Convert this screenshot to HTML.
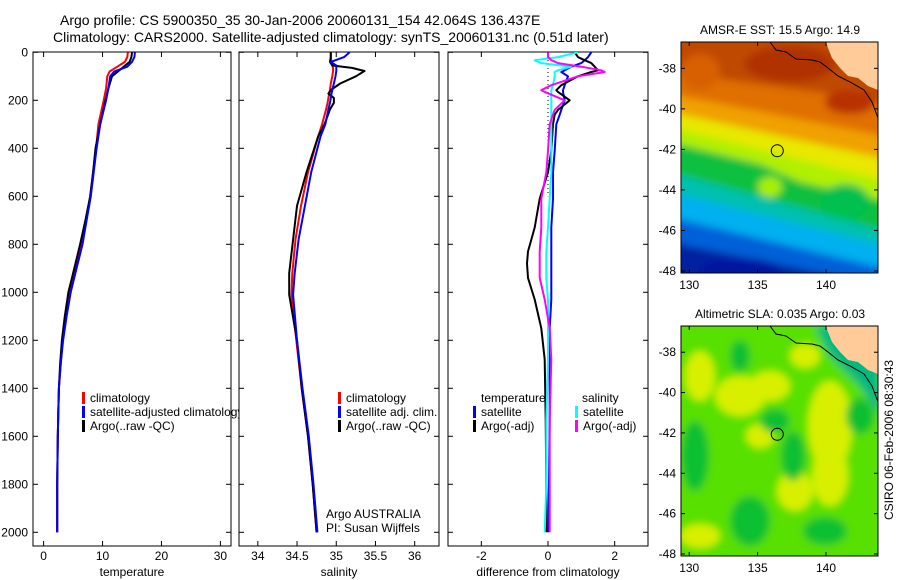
<!DOCTYPE html>
<html><head><meta charset="utf-8"><style>
body{margin:0;background:#fff;}
svg{display:block;font-family:"Liberation Sans",sans-serif;}
text{fill:#000;}
</style></head><body>
<svg id="fig" width="900" height="580" viewBox="0 0 900 580" xmlns="http://www.w3.org/2000/svg">
<defs>
<clipPath id="c1"><rect x="33" y="52" width="198" height="494"/></clipPath>
<clipPath id="c2"><rect x="239" y="52" width="200" height="494"/></clipPath>
<clipPath id="c3"><rect x="448" y="52" width="200" height="494"/></clipPath>
<clipPath id="m1"><rect x="681" y="42" width="197" height="231"/></clipPath>
<clipPath id="m2"><rect x="681" y="326" width="197" height="230"/></clipPath>
<clipPath id="leg1"><rect x="33" y="380" width="206" height="60"/></clipPath>
<filter id="bl" x="-20%" y="-20%" width="140%" height="140%"><feGaussianBlur stdDeviation="4"/></filter>
<filter id="bl2" x="-30%" y="-30%" width="160%" height="160%"><feGaussianBlur stdDeviation="4"/></filter>
</defs>
<text x="60" y="25" font-size="14">Argo profile: CS 5900350_35 30-Jan-2006 20060131_154 42.064S 136.437E</text>
<text x="53" y="42" font-size="14">Climatology: CARS2000. Satellite-adjusted climatology: synTS_20060131.nc (0.51d later)</text>
<g id="panels"></g>
<g id="maps"></g>
</svg>
<script>
// ---- depth axis ----
const depthTicks = [0,200,400,600,800,1000,1200,1400,1600,1800,2000];
// ---- temperature panel ----
const tempTicks = [0,10,20,30];
const tDepth = [0,20,40,60,80,100,150,200,300,400,500,600,700,800,900,1000,1100,1200,1300,1400,1500,1600,1800,2000];
const argoT = [15.0,14.9,14.6,13.6,12.6,11.6,11.0,10.5,9.6,8.8,8.4,7.9,7.1,6.2,5.2,4.2,3.6,3.1,2.8,2.6,2.5,2.4,2.3,2.3];
const climT = [14.3,14.2,13.8,12.5,11.2,10.8,10.6,10.2,9.3,8.9,8.4,7.9,7.2,6.5,5.5,4.5,3.8,3.2,2.9,2.6,2.5,2.4,2.3,2.3];
const satT = [15.5,15.4,15.0,14.2,12.0,11.3,11.0,10.6,9.6,9.0,8.5,8.0,7.3,6.6,5.6,4.6,3.9,3.3,2.9,2.6,2.5,2.4,2.3,2.3];
// ---- salinity panel ----
const salTicks = [34,34.5,35,35.5,36];
const salTickLabels = ["34","34.5","35","35.5","36"];
const sDepth = [0,20,40,55,65,78,100,130,157,172,190,210,238,300,350,500,640,780,920,1010,1200,1400,1600,1800,2000];
const argoS = [34.93,34.93,34.92,34.95,35.2,35.36,35.25,35.05,34.93,34.9,34.97,34.97,34.92,34.85,34.77,34.62,34.5,34.45,34.4,34.4,34.5,34.56,34.64,34.7,34.75];
const climS = [34.93,34.93,34.94,34.95,34.96,34.96,34.95,34.93,34.92,34.91,34.9,34.89,34.87,34.82,34.77,34.64,34.55,34.48,34.44,34.43,34.49,34.56,34.64,34.7,34.75];
const satS = [35.17,35.1,34.93,35.0,35.0,35.0,34.99,34.97,34.95,34.94,34.93,34.92,34.9,34.86,34.8,34.68,34.6,34.52,34.47,34.45,34.5,34.57,34.65,34.71,34.76];
// ---- difference panel ----
const diffTicks = [-2,0,2];
const dDepth = [0,20,33,45,60,75,82,100,137,158,165,200,240,260,300,410,500,610,730,830,880,940,1030,1150,1280,1530,1800,2000];
const argoTd = [0.8,0.9,1.1,1.3,1.4,1.5,1.3,0.9,0.4,0.25,0.3,0.65,0.3,0.2,0.15,0.1,0.0,-0.25,-0.4,-0.6,-0.63,-0.6,-0.4,-0.2,-0.1,-0.07,-0.05,-0.05];
const satTd = [1.3,1.2,1.1,1.0,0.7,0.5,0.4,0.6,0.5,0.45,0.45,0.5,0.4,0.35,0.25,0.2,0.15,0.15,0.1,0.1,0.1,0.1,0.1,0.05,0.05,0.05,0.03,0.0];
const satSd = [0.9,0.3,-0.4,-0.2,0.7,0.3,0.2,0.2,0.15,0.1,0.1,0.1,0.1,0.1,0.1,0.1,0.1,0.05,0.0,-0.05,-0.05,-0.05,0.0,0.0,0.0,-0.05,-0.05,-0.1];
const argoSd = [0.0,0.0,0.1,0.3,1.0,1.6,1.7,0.9,0.1,-0.2,-0.1,0.5,0.2,0.15,0.05,0.0,-0.05,-0.2,-0.2,-0.25,-0.25,-0.25,-0.1,0.05,0.1,0.05,0.05,0.05];
// ---- map axes ----
const lonTicks = [130,135,140];
const latTicks = [-38,-40,-42,-44,-46,-48];
const argoLon = 136.437, argoLat = -42.064;

const NS = "http://www.w3.org/2000/svg";
function mk(tag, attrs, parent){const e=document.createElementNS(NS,tag);for(const k in attrs)e.setAttribute(k,attrs[k]);parent.appendChild(e);return e;}
const yD = d => 52.3 + d*0.24;
const P = document.getElementById('panels');

function panel(name, x0, x1, xmin, xmax, ticks, labels, xlabel, clip, leftLabels){
  const xS = v => x0 + (v-xmin)/(xmax-xmin)*(x1-x0);
  const g = mk('g',{},P);
  
  
  const box = mk('rect',{x:x0,y:52,width:x1-x0,height:494,fill:'#fff',stroke:'#000','stroke-width':1},g);
  
  
  depthTicks.forEach(d=>{
    const y=yD(d);
    mk('line',{x1:x0,y1:y,x2:x0+5,y2:y,stroke:'#000'},g);
    mk('line',{x1:x1-5,y1:y,x2:x1,y2:y,stroke:'#000'},g);
    if(leftLabels){const t=mk('text',{x:x0-5,y:y+4,'font-size':12,'text-anchor':'end'},g);t.textContent=d;
      
      }
  });
  ticks.forEach((v,i)=>{
    const x=xS(v);
    mk('line',{x1:x,y1:52,x2:x,y2:57,stroke:'#000'},g);
    mk('line',{x1:x,y1:541,x2:x,y2:546,stroke:'#000'},g);
    const t=mk('text',{x:x,y:560,'font-size':12,'text-anchor':'middle'},g);t.textContent=labels[i];
    
    
  });
  const xl=mk('text',{x:(x0+x1)/2,y:576,'font-size':12,'text-anchor':'middle'},g);xl.textContent=xlabel;
  
  
  const lines = mk('g',{'clip-path':'url(#'+clip+')'},g);
  return {xS, lines, g};
}
function series(p, depths, vals, color, name, w){
  const pts = vals.map((v,i)=>p.xS(v).toFixed(1)+','+yD(depths[i]).toFixed(1)).join(' ');
  const l = mk('polyline',{points:pts,fill:'none',stroke:color,'stroke-width':w||2,'stroke-linejoin':'round'},p.lines);
  
  
}
function legItem(parent, x, y, color, label, name){
  const g=mk('g',{},parent);
  
  
  if(color) mk('rect',{x:x,y:y-10,width:3,height:12,fill:color},g);
  const t=mk('text',{x:x+8,y:y,'font-size':12},g);t.textContent=label;
}

// Temperature
const p1 = panel('temperature-panel',33,231,-1.8,31.8,tempTicks,tempTicks.map(String),'temperature','c1',true);
series(p1,tDepth,climT,'#ff0000','climatology-temp-line');
series(p1,tDepth,argoT,'#000000','argo-temp-line');
series(p1,tDepth,satT,'#0000ff','satellite-temp-line');
const lg1=mk('g',{'clip-path':'url(#leg1)'},P);
legItem(lg1,82,402,'#ff0000','climatology','legend-climatology');
legItem(lg1,82,416,'#0000ff','satellite-adjusted climatology','legend-satellite-adjusted');
legItem(lg1,82,430,'#000000','Argo(..raw -QC)','legend-argo');

// Salinity
const p2 = panel('salinity-panel',239,439,33.76,36.31,salTicks,salTickLabels,'salinity','c2',false);
series(p2,sDepth,climS,'#ff0000','climatology-sal-line');
series(p2,sDepth,argoS,'#000000','argo-sal-line');
series(p2,sDepth,satS,'#0000ff','satellite-sal-line');
legItem(P,338,402,'#ff0000','climatology','legend-sal-climatology');
legItem(P,338,416,'#0000ff','satellite adj. clim.','legend-sal-satellite');
legItem(P,338,430,'#000000','Argo(..raw -QC)','legend-sal-argo');
let t=mk('text',{x:326,y:518,'font-size':12},P);t.textContent='Argo AUSTRALIA';


t=mk('text',{x:326,y:532,'font-size':12},P);t.textContent='PI: Susan Wijffels';



// Difference
const p3 = panel('difference-panel',448,648,-3,3,diffTicks,diffTicks.map(String),'difference from climatology','c3',false);
const zl=mk('line',{x1:p3.xS(0),y1:52,x2:p3.xS(0),y2:yD(600),stroke:'#000','stroke-dasharray':'1,3'},p3.lines);


series(p3,dDepth,satTd,'#0000ff','satellite-temp-diff-line');
series(p3,dDepth,argoTd,'#000000','argo-temp-diff-line');
series(p3,dDepth,satSd,'#00ffff','satellite-sal-diff-line');
series(p3,dDepth,argoSd,'#ff00ff','argo-sal-diff-line');
t=mk('text',{x:481,y:402,'font-size':12},P);t.textContent='temperature';


t=mk('text',{x:582,y:402,'font-size':12},P);t.textContent='salinity';


legItem(P,473,416,'#0000ff','satellite','legend-diff-temp-satellite');
legItem(P,473,430,'#000000','Argo(-adj)','legend-diff-temp-argo');
legItem(P,575,416,'#00ffff','satellite','legend-diff-sal-satellite');
legItem(P,575,430,'#ff00ff','Argo(-adj)','legend-diff-sal-argo');

// ---- Maps ----
const M = document.getElementById('maps');
function mapAxes(name, top, bottom, title, clip, paint){
  const lon = v => 681 + (v-129.4)/(143.8-129.4)*197;
  const lat = v => top + (-36.7 - v)/(11.4)*(bottom-top);
  const g=mk('g',{},M);
  
  
  const tt=mk('text',{x:780,y:top-8,'font-size':12,'text-anchor':'middle'},g);tt.textContent=title;
  
  
  const f=mk('g',{'clip-path':'url(#'+clip+')'},g);
  paint(f,top,bottom);
  const land=mk('path',{d:`M826,${top} L878,${top} L878,${top+48} L868,${top+44} L858,${top+36} L848,${top+34} L840,${top+26} L832,${top+16} L828,${top+6} Z`,fill:'#ffcc99'},f);
  
  
  mk('path',{d:`M770,${top} L776,${top+8} L786,${top+10} L796,${top+17} L812,${top+18} L820,${top+20} L828,${top+26} L838,${top+34} L850,${top+40} L864,${top+48} L872,${top+60} L878,${top+76}`,fill:'none',stroke:'#000','stroke-width':1},f);
  const c=mk('circle',{cx:lon(argoLon),cy:lat(argoLat),r:6,fill:'none',stroke:'#000','stroke-width':1},g);
  
  
  mk('rect',{x:681,y:top,width:197,height:bottom-top,fill:'none',stroke:'#000'},g);
  lonTicks.forEach(v=>{const x=lon(v);
    mk('line',{x1:x,y1:top,x2:x,y2:top+4,stroke:'#000'},g);
    mk('line',{x1:x,y1:bottom-4,x2:x,y2:bottom,stroke:'#000'},g);
    const l=mk('text',{x:x,y:bottom+16,'font-size':12,'text-anchor':'middle'},g);l.textContent=v;
    
    });
  latTicks.forEach(v=>{const y=lat(v);
    mk('line',{x1:681,y1:y,x2:685,y2:y,stroke:'#000'},g);
    mk('line',{x1:874,y1:y,x2:878,y2:y,stroke:'#000'},g);
    const l=mk('text',{x:676,y:y+4,'font-size':12,'text-anchor':'end'},g);l.textContent=v;
    
    });
}
function sst(f,top){
  const bands=[
    ['#c04a00',`M670,${top-10} L890,${top-10} L890,${top+80} L670,${top+40}Z`],
    ['#e07000',`M670,${top+30} L890,${top+60} L890,${top+110} L670,${top+58}Z`],
    ['#f0a000',`M670,${top+52} L890,${top+95} L890,${top+130} L670,${top+74}Z`],
    ['#e8e800',`M670,${top+70} L890,${top+118} L890,${top+150} L670,${top+90}Z`],
    ['#b0f000',`M670,${top+85} L890,${top+140} L890,${top+165} L670,${top+104}Z`],
    ['#10c040',`M670,${top+100} L760,${top+122} L800,${top+140} L890,${top+160} L890,${top+195} L670,${top+135}Z`],
    ['#00c0b0',`M670,${top+130} L890,${top+190} L890,${top+212} L670,${top+155}Z`],
    ['#00b0f0',`M670,${top+150} L890,${top+205} L890,${top+235} L670,${top+180}Z`],
    ['#0060d8',`M670,${top+175} L890,${top+228} L890,${top+250} L670,${top+205}Z`],
    ['#0020a0',`M670,${top+200} L890,${top+245} L890,${top+260} L670,${top+260}Z`]];
  const bg=mk('g',{filter:'url(#bl)'},f);
  mk('rect',{x:660,y:top-20,width:240,height:280,fill:'#c04a00'},bg);
  bands.forEach(b=>mk('path',{d:b[1],fill:b[0]},bg));
  mk('ellipse',{cx:790,cy:top+22,rx:45,ry:18,fill:'#b03000'},bg);
  mk('ellipse',{cx:850,cy:top+60,rx:25,ry:12,fill:'#b83000'},bg);
  mk('ellipse',{cx:700,cy:top+30,rx:20,ry:18,fill:'#d86000'},bg);
  mk('ellipse',{cx:845,cy:top+160,rx:25,ry:18,fill:'#00c050'},bg);
  mk('ellipse',{cx:770,cy:top+145,rx:12,ry:10,fill:'#a8f000'},bg);
  mk('ellipse',{cx:740,cy:top+228,rx:40,ry:12,fill:'#0018a0'},bg);
}
function sla(f,top){
  const bg=mk('g',{filter:'url(#bl2)'},f);
  mk('rect',{x:660,y:top-20,width:240,height:270,fill:'#58e000'},bg);
  const yel=[[740,top+70,25,20],[770,top+60,20,15],[830,top+100,22,45],[830,top+150,18,30],[795,top+165,18,20],[700,top+50,15,25],[760,top+110,14,12],[700,top+210,20,12],[805,top+30,15,12]];
  yel.forEach(e=>mk('ellipse',{cx:e[0],cy:e[1],rx:e[2],ry:e[3],fill:'#d8f000'},bg));
  const grn=[[695,top+130,14,35],[750,top+195,20,25],[825,top+205,22,14],[775,top+95,15,12],[793,top+130,12,25],[740,top+30,10,16],[860,top+90,14,18]];
  grn.forEach(e=>mk('ellipse',{cx:e[0],cy:e[1],rx:e[2],ry:e[3],fill:'#10c030'},bg));
  mk('path',{d:`M815,${top} L880,${top} L880,${top+90} L860,${top+60} L830,${top+30}Z`,fill:'#00b880'},bg);
}
mapAxes('sst-map',42,273,'AMSR-E SST: 15.5 Argo: 14.9','m1',sst);
mapAxes('sla-map',326,556,'Altimetric SLA: 0.035 Argo: 0.03','m2',sla);
t=mk('text',{x:0,y:0,'font-size':12,'text-anchor':'middle',transform:'translate(893,440) rotate(-90)'},M);
t.textContent='CSIRO 06-Feb-2006 08:30:43';


</script>
</body></html>
